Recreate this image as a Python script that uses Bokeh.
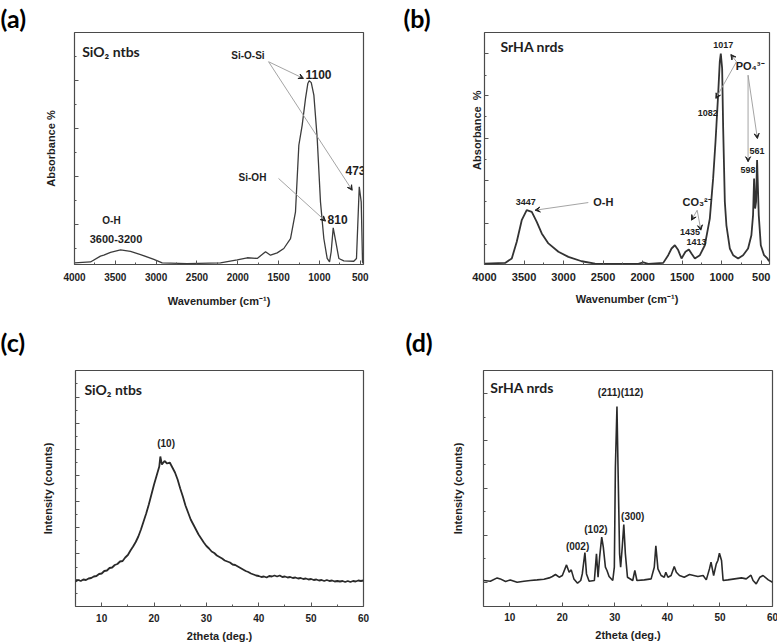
from bokeh.plotting import figure
from bokeh.models import Range1d, FixedTicker, Label, Arrow, VeeHead, CustomJSTickFormatter
from bokeh.layouts import row, column
from bokeh.embed import file_html
from bokeh.resources import INLINE

# ---------------- data ----------------
# (a) FTIR of SiO2 nanotubes
ftir_sio2_wn = [4000, 3804, 3682, 3641, 3559, 3436, 3314, 3191, 3028, 2926, 2620, 2212,
                2007, 1884, 1762, 1660, 1599, 1517, 1436, 1354, 1293, 1252, 1211, 1170,
                1142, 1125, 1100, 1068, 1027, 987, 946, 905, 876, 856, 831, 799, 762,
                701, 579, 546, 512, 488, 472, 462]
ftir_sio2_abs = [0.7, 1.1, 3.6, 4.0, 5.2, 6.3, 5.7, 4.3, 2.2, 0.7, 0.4, 0.7,
                 2.0, 2.9, 2.6, 5.5, 4.0, 5.0, 6.9, 11.2, 22.7, 51.4, 60.1, 71.6,
                 78.0, 79.2, 78.4, 73.0, 54.3, 27.0, 11.2, 2.6, 1.1, 5.5, 15.8, 9.8, 2.6,
                 1.6, 1.4, 2.6, 33.5, 27.0, 1.1, 0.5]

# (b) FTIR of SrHA nanorods
ftir_srha_wn = [4000, 3739, 3655, 3592, 3529, 3466, 3402, 3339, 3276, 3192, 3065, 2939,
                2771, 2602, 2055, 1992, 1929, 1739, 1676, 1634, 1592, 1550, 1508, 1458,
                1415, 1382, 1339, 1276, 1213, 1150, 1108, 1078, 1066, 1045, 1024, 1011,
                994, 981, 960, 940, 897, 855, 792, 729, 666, 624, 603, 590, 577, 565,
                552, 531, 505, 464, 422, 400]
ftir_srha_abs = [0.4, 0.7, 2.6, 9.8, 19.1, 23.4, 22.7, 18.4, 13.4, 9.1, 5.5, 3.3,
                 1.4, 0.4, 0.3, 0.9, 0.3, 0.7, 4.0, 6.9, 8.3, 6.2, 2.6, 5.5,
                 6.5, 4.7, 2.6, 4.0, 8.3, 19.8, 37.1, 52.9, 60.1, 73.0, 87.4, 90.9,
                 84.5, 58.6, 27.0, 16.9, 6.9, 4.0, 2.6, 4.0, 6.9, 12.6, 21.3, 37.1, 24.1, 27.0,
                 45.0, 21.3, 8.3, 4.0, 2.6, 1.4]

# (c) XRD of SiO2 nanotubes
xrd_sio2_2theta = [5.0, 5.5, 6.0, 6.5, 7.0, 7.5, 8.0, 8.5, 9.0, 9.5, 10.0, 10.5, 11.0, 11.5,
                   12.0, 12.5, 13.0, 13.5, 14.0, 14.5, 15.0, 15.5, 16.0, 16.5, 17.0, 17.5,
                   18.0, 18.5, 19.0, 19.5, 20.0, 20.5, 21.0, 21.2, 21.5, 22.0, 22.5, 23.0,
                   23.5, 24.0, 24.5, 25.0, 25.5, 26.0, 26.5, 27.0, 27.5, 28.0, 28.5, 29.0,
                   29.5, 30.0, 30.5, 31.0, 31.5, 32.0, 32.5, 33.0, 33.5, 34.0, 34.5, 35.0,
                   35.5, 36.0, 36.5, 37.0, 37.5, 38.0, 38.5, 39.0, 39.5, 40.0, 40.5, 41.0,
                   41.5, 42.0, 42.5, 43.0, 43.5, 44.0, 44.5, 45.0, 45.5, 46.0, 46.5, 47.0,
                   47.5, 48.0, 48.5, 49.0, 49.5, 50.0, 50.5, 51.0, 51.5, 52.0, 52.5, 53.0,
                   53.5, 54.0, 54.5, 55.0, 55.5, 56.0, 56.5, 57.0, 57.5, 58.0, 58.5, 59.0,
                   59.5, 60.0]
xrd_sio2_counts = [25, 26.5, 25.5, 27, 26.5, 28, 28.5, 30, 30.5, 32.5, 33, 35.5, 36, 38.5,
                   39, 41.5, 42.5, 45, 45.5, 49, 51.5, 56, 60, 64.5, 70, 77,
                   85, 93, 102, 112, 122, 131, 140, 150, 142, 145.5, 143, 144,
                   139, 134, 127, 118, 110, 101, 94, 87, 82, 77, 72, 68,
                   64, 60.5, 58, 55, 53.5, 51, 49.5, 48, 46, 45, 44, 42,
                   41.5, 40, 38.5, 37, 35.5, 34.5, 33, 32, 31, 30.5, 29.5, 30,
                   29, 30.5, 30, 31, 30, 31, 29.5, 30, 29, 29.5, 28.5, 29,
                   28, 28.5, 27.5, 28, 27, 27.5, 26.5, 27, 26, 26.5, 25.5, 26.5,
                   25.5, 26, 25, 25.5, 25, 25.5, 24.5, 25.5, 24.5, 25.5, 25, 26,
                   25.5, 26]

# (d) XRD of SrHA nanorods
xrd_srha_2theta = [5.0, 6.3, 7.6, 8.2, 9.2, 10.1, 11.4, 12.7, 13.9, 15.2, 16.5, 17.5, 18.1,
                   18.7, 19.4, 20.0, 20.8, 21.3, 21.7, 22.2, 22.9, 23.5, 23.8, 24.3, 24.6,
                   25.1, 26.1, 26.5, 26.8, 27.1, 27.5, 27.8, 28.2, 28.5, 28.9, 29.6, 29.9,
                   30.1, 30.4, 30.6, 30.9, 31.1, 31.4, 31.7, 32.0, 32.4, 33.4, 33.8, 34.2,
                   35.6, 36.9, 37.5, 37.8, 38.2, 38.8, 39.4, 39.7, 40.1, 40.7, 41.3, 41.7,
                   42.3, 43.2, 44.2, 45.8, 46.8, 47.4, 48.0, 48.3, 48.8, 49.3, 49.6, 49.9,
                   50.3, 50.6, 51.5, 52.8, 54.1, 55.0, 55.9, 56.3, 56.9, 57.6, 58.2, 59.2, 60.0]
xrd_srha_counts = [26, 25.3, 28.6, 27.6, 25, 26.6, 24.3, 25.3, 26, 26.6, 27.3, 28.6, 30,
                   32, 29.3, 31, 41.6, 34.3, 36.6, 27.6, 23.3, 26, 32.6, 54, 32.6,
                   25.3, 26, 52.6, 29.3, 49.3, 69.3, 59.3, 39.3, 36, 30, 26, 39.3,
                   139.3, 200, 139.3, 52.6, 39.3, 59.3, 82, 52.6, 29.3, 26, 36, 26,
                   26.6, 27.6, 39.3, 60.6, 37.6, 31, 29.3, 34.3, 29.3, 31, 40, 34.3,
                   31, 29.3, 32, 30, 31, 26.6, 37.6, 44.3, 31, 42.6, 46, 53.3,
                   46, 26, 26.6, 27.6, 28.6, 27.6, 31.3, 26, 22.6, 29.3, 31, 26.6, 24.3]

ftir_ticks = [4000, 3500, 3000, 2500, 2000, 1500, 1000, 500]
ftir_minor = [3750, 3250, 2750, 2250, 1750, 1250, 750]
xrd_ticks = [10, 20, 30, 40, 50, 60]
xrd_minor = [5, 15, 25, 35, 45, 55]

AX_FONT = "Liberation Sans"
TAG_FONT = "Lato"
INK = "#1e1e1e"


def make_fig(xr, yr, fw, fh, bl, br, bt, bb, tag, tag_offset, tag_standoff):
    p = figure(x_range=xr, y_range=yr, frame_width=fw, frame_height=fh,
               min_border_left=bl, min_border_right=br, min_border_top=bt,
               min_border_bottom=bb, output_backend="svg", toolbar_location=None,
               title=tag)
    p.title.align = "left"
    p.title.offset = tag_offset
    p.title.standoff = tag_standoff
    p.title.text_font = TAG_FONT
    p.title.text_font_style = "bold"
    p.title.text_font_size = "25px"
    p.title.text_color = "black"
    p.grid.visible = False
    p.outline_line_color = "#4a4a4a"
    p.outline_line_width = 1.2
    p.background_fill_color = "white"
    p.border_fill_color = "white"
    for ax in list(p.xaxis) + list(p.yaxis):
        ax.axis_line_color = None
        ax.major_tick_in = 4
        ax.major_tick_out = 0
        ax.minor_tick_in = 2
        ax.minor_tick_out = 0
        ax.major_tick_line_color = "#555555"
        ax.minor_tick_line_color = "#555555"
        ax.axis_label_text_font = AX_FONT
        ax.axis_label_text_font_style = "bold"
        ax.axis_label_text_color = INK
        ax.major_label_text_font = AX_FONT
        ax.major_label_text_font_style = "bold"
        ax.major_label_text_color = INK
    p.yaxis.formatter = CustomJSTickFormatter(code="return ''")
    p.yaxis.major_label_standoff = 0
    return p


def add_text(p, x, y, text, size="10px", align="center", font=AX_FONT):
    p.add_layout(Label(x=x, y=y, text=text, text_font=font, text_font_style="bold",
                       text_font_size=size, text_align=align, text_baseline="middle",
                       text_color=INK))


def add_arrow(p, x0, y0, x1, y1):
    p.add_layout(Arrow(end=VeeHead(size=5, fill_color="#222222", line_color="#222222"),
                       x_start=x0, y_start=y0, x_end=x1, y_end=y1,
                       line_color="#9a9a9a", line_width=0.9))


# ---------------- (a) ----------------
pa = make_fig(Range1d(4000, 460), Range1d(0, 100), 289, 232, 74, 27, 32, 46, "(a)", -74, 0)
pa.line(ftir_sio2_wn, ftir_sio2_abs, line_color="#3c3c3c", line_width=1.3)
pa.xaxis.ticker = FixedTicker(ticks=ftir_ticks, minor_ticks=ftir_minor)
pa.yaxis.ticker = FixedTicker(ticks=[17.2, 37.9, 58.7, 79.4], minor_ticks=[6.9, 27.6, 48.3, 69.0, 89.8])
pa.xaxis.axis_label = "Wavenumber (cm\u207b\u00b9)"
pa.yaxis.axis_label = "Absorbance %"
pa.xaxis.major_label_text_font_size = "10px"
pa.xaxis.major_label_standoff = 8
pa.xaxis.axis_label_text_font_size = "11px"
pa.xaxis.axis_label_standoff = 11
pa.yaxis.axis_label_text_font_size = "11px"
pa.yaxis.axis_label_standoff = 18
add_text(pa, 3906, 92, "SiO\u2082 ntbs", size="14px", align="left", font=TAG_FONT)
add_text(pa, 1875, 89.9, "Si-O-Si", size="10px")
add_text(pa, 1011, 81.9, "1100", size="12px")
add_text(pa, 1820, 37.5, "Si-OH", size="10px")
add_text(pa, 778, 19.4, "810", size="12px")
add_text(pa, 558, 40.5, "473", size="12px")
add_text(pa, 3547, 19, "O-H", size="10px")
add_text(pa, 3492, 10.8, "3600-3200", size="11px")
add_arrow(pa, 1623, 87.4, 1195, 80.2)
add_arrow(pa, 1623, 87.4, 598, 32.0)
add_arrow(pa, 1501, 37.1, 925, 18.7)

# ---------------- (b) ----------------
pb = make_fig(Range1d(4000, 395), Range1d(0, 100), 285, 232, 94, 7, 32, 46, "(b)", -81, 0)
pb.line(ftir_srha_wn, ftir_srha_abs, line_color="#333333", line_width=1.8)
pb.xaxis.ticker = FixedTicker(ticks=ftir_ticks, minor_ticks=ftir_minor)
pb.yaxis.ticker = FixedTicker(ticks=[17.8, 36.2, 54.4, 72.8, 90.9], minor_ticks=[8.6, 27.0, 45.3, 63.7, 81.6])
pb.xaxis.axis_label = "Wavenumber (cm\u207b\u00b9)"
pb.yaxis.axis_label = "\u00a0" * 12 + "Absorbance\u00a0\u00a0%"
pb.xaxis.major_label_text_font_size = "11px"
pb.xaxis.major_label_standoff = 8
pb.xaxis.axis_label_text_font_size = "11px"
pb.xaxis.axis_label_standoff = 9
pb.yaxis.axis_label_text_font_size = "11px"
pb.yaxis.axis_label_standoff = 2
add_text(pb, 3798, 93.8, "SrHA nrds", size="14px", align="left", font=TAG_FONT)
add_text(pb, 981, 94.6, "1017", size="9px")
add_text(pb, 640, 85.5, "PO\u2084\u00b3\u207b", size="11px")
add_text(pb, 1177, 65.1, "1082", size="9px")
add_text(pb, 552, 49.1, "561", size="9px")
add_text(pb, 666, 40.9, "598", size="9px")
add_text(pb, 3478, 27, "3447", size="9px")
add_text(pb, 2497, 27, "O-H", size="11px")
add_text(pb, 1310, 27, "CO\u2083\u00b2\u207b", size="11px")
add_text(pb, 1402, 14.1, "1435", size="9px")
add_text(pb, 1318, 9.8, "1413", size="9px")
add_arrow(pb, 2687, 26.7, 3360, 23.4)
add_arrow(pb, 1310, 23.4, 1382, 19.1)
add_arrow(pb, 1310, 23.4, 1263, 14.8)
add_arrow(pb, 813, 87.4, 884, 90.5)
add_arrow(pb, 813, 87.4, 1074, 71.6)
add_arrow(pb, 666, 81.6, 666, 44.3)
add_arrow(pb, 666, 81.6, 548, 54.3)

# ---------------- (c) ----------------
pc = make_fig(Range1d(5, 60), Range1d(0, 236), 288, 236, 75, 27, 60, 37, "(c)", -75, 28)
pc.line(xrd_sio2_2theta, xrd_sio2_counts, line_color="#2a2a2a", line_width=1.8)
pc.xaxis.ticker = FixedTicker(ticks=xrd_ticks, minor_ticks=xrd_minor)
pc.yaxis.ticker = FixedTicker(ticks=[26.7, 52.7, 78.7, 105, 131, 156.7, 182.7, 209.3],
                              minor_ticks=[13, 39.3, 66, 92, 117.7, 144, 170, 196, 222.7])
pc.xaxis.axis_label = "2theta (deg.)"
pc.yaxis.axis_label = "Intensity (counts)"
pc.xaxis.major_label_text_font_size = "10px"
pc.xaxis.major_label_standoff = 7
pc.xaxis.axis_label_text_font_size = "11px"
pc.xaxis.axis_label_standoff = 5
pc.yaxis.axis_label_text_font_size = "11px"
pc.yaxis.axis_label_standoff = 22
add_text(pc, 6.7, 217, "SiO\u2082 ntbs", size="14px", align="left", font=TAG_FONT)
add_text(pc, 22.3, 163.3, "(10)", size="10px")

# ---------------- (d) ----------------
pd = make_fig(Range1d(5, 60), Range1d(0, 236), 289, 236, 93, 7, 59, 38, "(d)", -78, 27)
pd.line(xrd_srha_2theta, xrd_srha_counts, line_color="#2a2a2a", line_width=1.6)
pd.xaxis.ticker = FixedTicker(ticks=xrd_ticks, minor_ticks=xrd_minor)
pd.yaxis.ticker = FixedTicker(ticks=[24.3, 71, 118.3, 166, 212.6],
                              minor_ticks=[47.7, 95.3, 142, 189.3])
pd.xaxis.axis_label = "2theta (deg.)"
pd.yaxis.axis_label = "Intensity (counts)"
pd.xaxis.major_label_text_font_size = "10px"
pd.xaxis.major_label_standoff = 6
pd.xaxis.axis_label_text_font_size = "11px"
pd.xaxis.axis_label_standoff = 5
pd.yaxis.axis_label_text_font_size = "11px"
pd.yaxis.axis_label_standoff = 20
add_text(pd, 6.3, 219.3, "SrHA nrds", size="14px", align="left", font=TAG_FONT)
add_text(pd, 31.1, 213.6, "(211)(112)", size="10px")
add_text(pd, 33.4, 90.3, "(300)", size="10px")
add_text(pd, 26.4, 77, "(102)", size="10px")
add_text(pd, 22.9, 60.3, "(002)", size="10px")

layout = column(row(pa, pb), row(pc, pd))
open("out.html", "w").write(file_html(layout, INLINE))
